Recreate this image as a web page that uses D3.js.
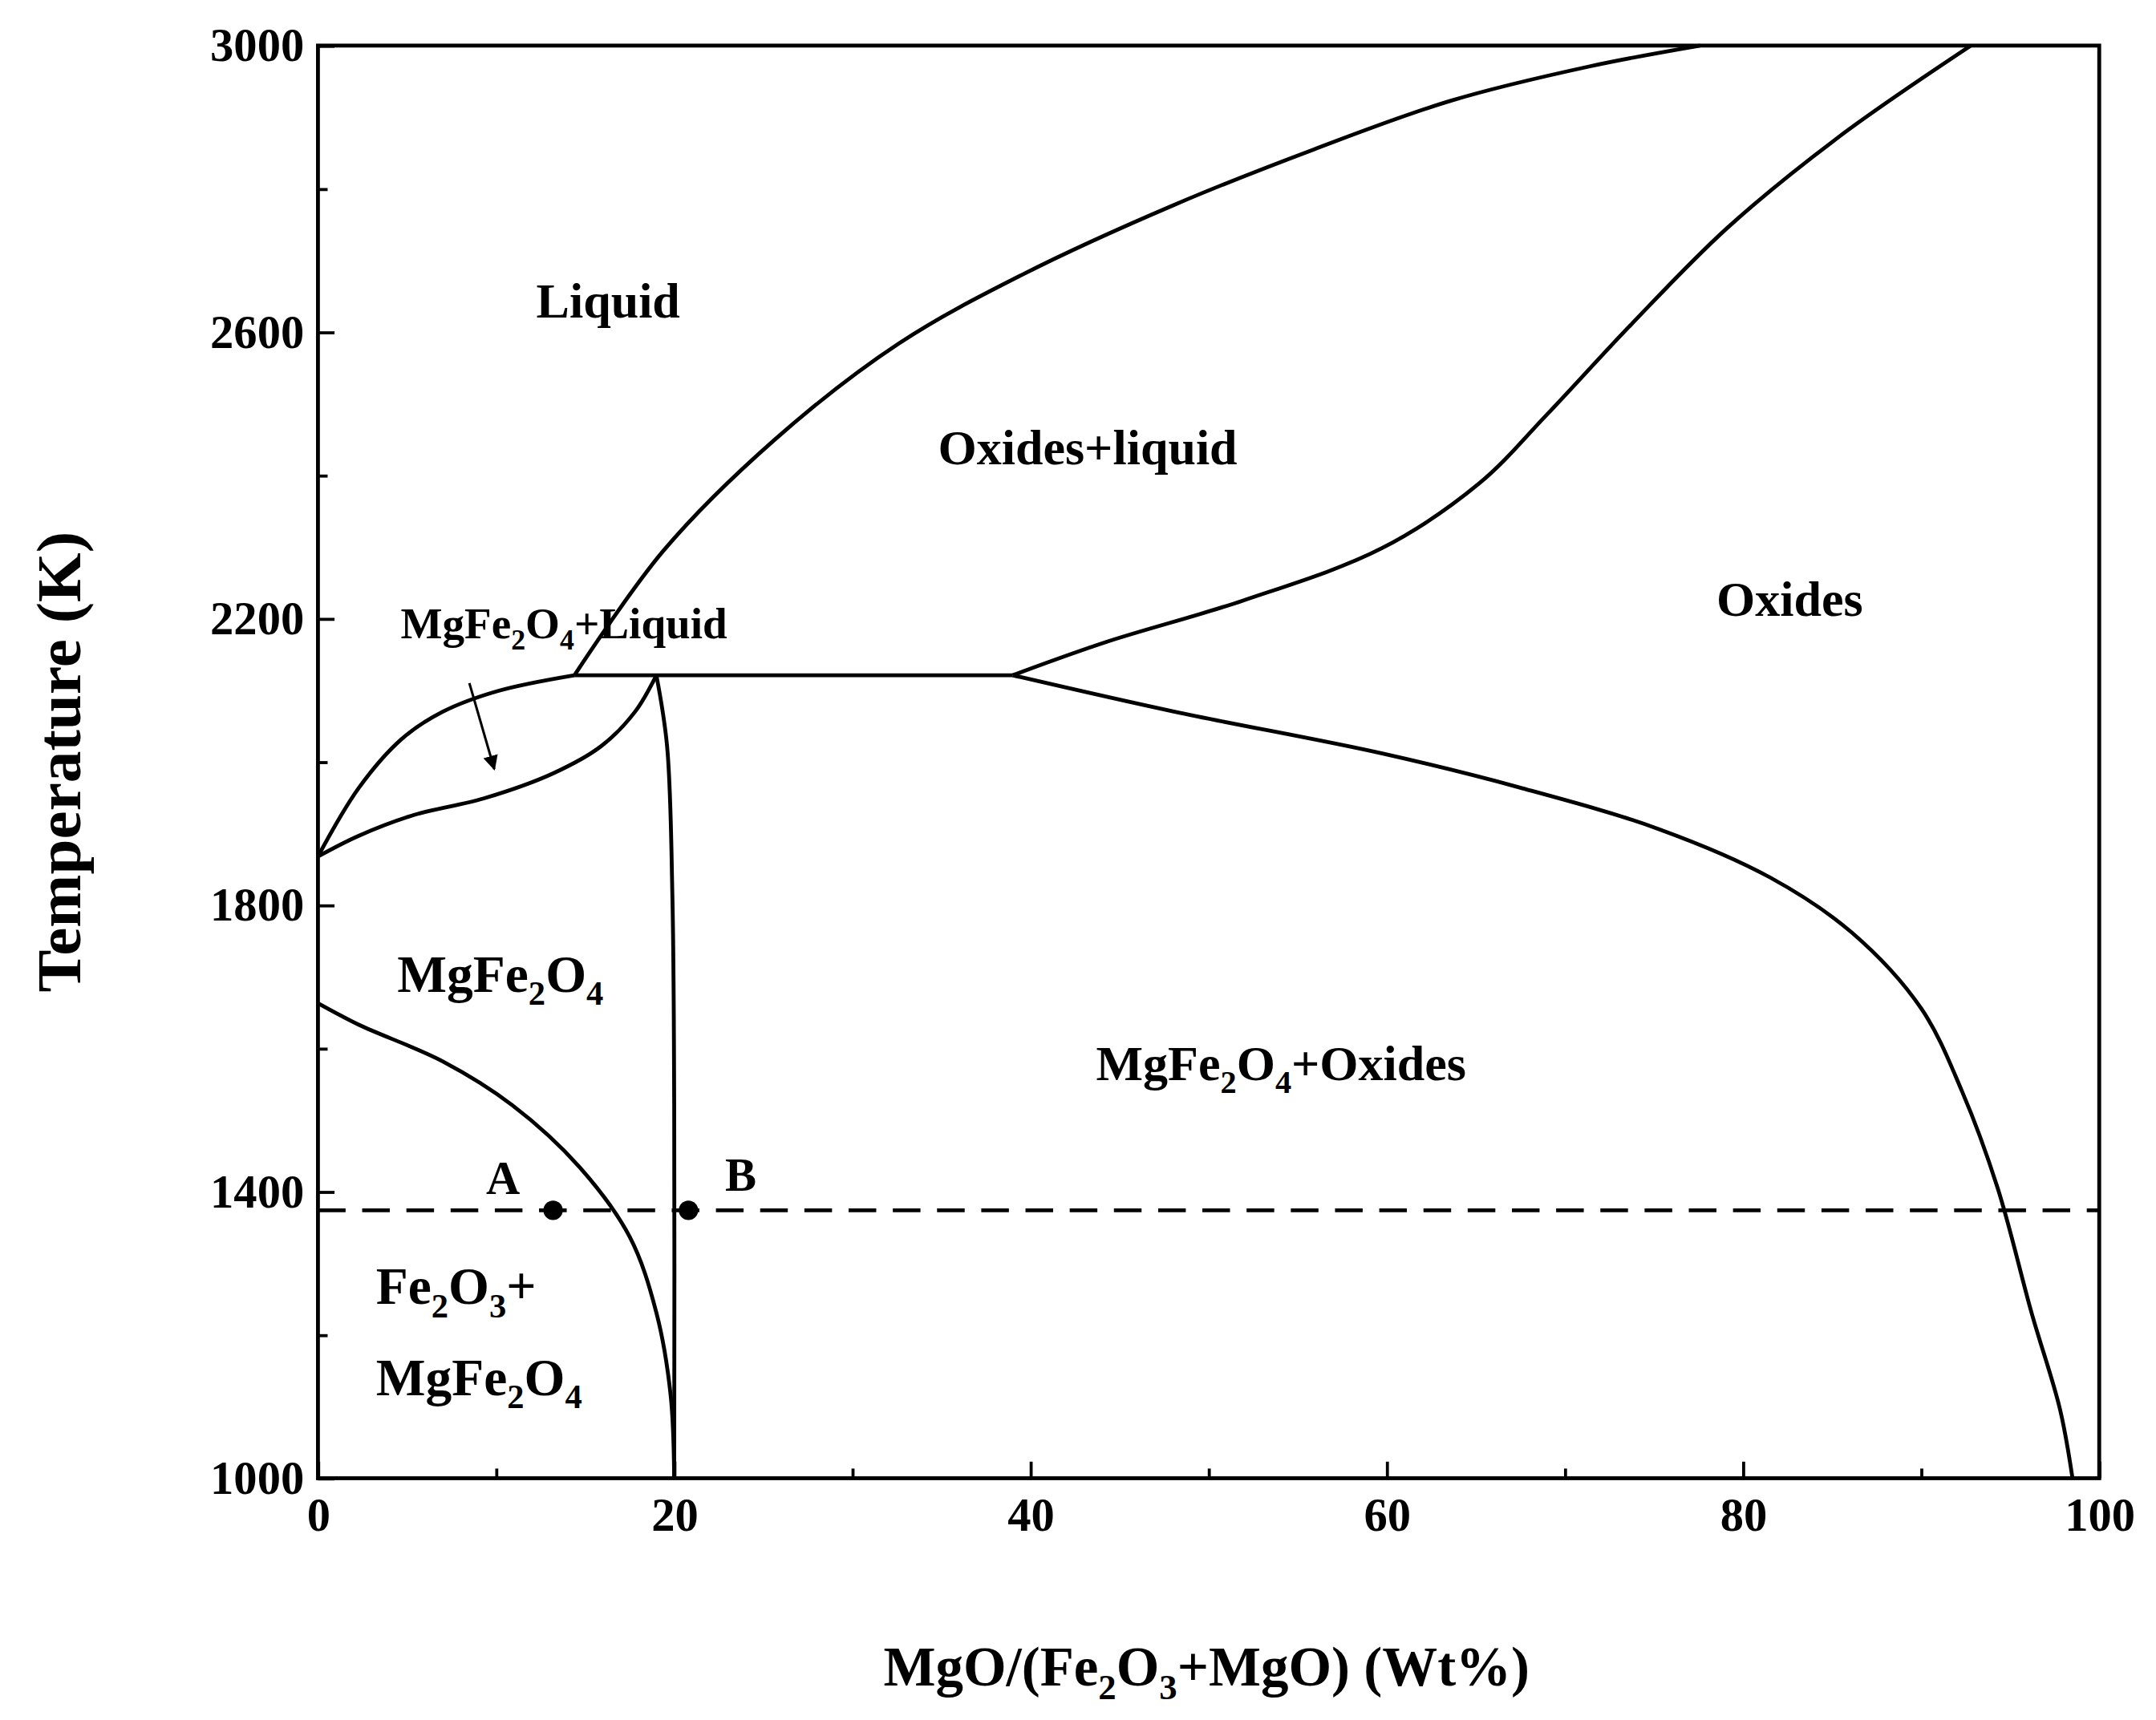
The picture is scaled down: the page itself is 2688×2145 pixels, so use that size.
<!DOCTYPE html>
<html><head><meta charset="utf-8">
<script src="https://cdn.jsdelivr.net/npm/d3@7"></script>
<style>body{margin:0;background:#fff}text{font-family:"Liberation Serif","Times New Roman",serif;font-weight:bold}</style>
</head><body><div id="chart"></div>
<script>
// phase boundaries, [MgO wt%, T (K)]
const liquidus = [[14.4,2121],[19.4,2295],[25.6,2449],[32.6,2584],[39.6,2681],[48.1,2778],[55.9,2855],[63.6,2923],[71.4,2971],[77.6,3000]];
const oxideSolidus = [[39,2121],[44.2,2167],[51.9,2225],[59.7,2298],[65.2,2389],[69,2485],[73.7,2610],[79.1,2745],[85.3,2871],[92.8,3000]];
const eutectic = [[14.4,2121],[39,2121]];
const spinelLiquidus = [[0,1868],[2.3,1964],[4.7,2032],[7,2070],[10.1,2099],[14.4,2121]];
const spinelSolidus = [[0,1868],[2.3,1897],[5.4,1926],[9.3,1949],[13.2,1984],[15.9,2022],[17.8,2070],[19,2121]];
const spinelSolvus = [[19,2121],[19.6,2022],[19.9,1810],[20,1521],[20,1000]];
const hematiteSolvus = [[0,1663],[2.3,1633],[7,1582],[10.9,1521],[14.7,1434],[17.5,1337],[19,1231],[19.8,1116],[20,1000]];
const oxideSolvus = [[39,2121],[48.1,2070],[59.7,2012],[67.5,1964],[75.3,1906],[81.5,1839],[86.1,1762],[90,1656],[92.3,1540],[94.3,1405],[96.2,1231],[97.8,1096],[98.5,1000]];
const isotherm = 1374;
const points = [["A",13.2],["B",20.8]];
const xTicks = [0,20,40,60,80,100];
const yTicks = [1000,1400,1800,2200,2600,3000];

const W = 1560, H = 1245;
const m = {left:230, right:1519, top:33, bottom:1070};
const x = d3.scaleLinear([0,100],[m.left,m.right]);
const y = d3.scaleLinear([1000,3000],[m.bottom,m.top]);

const svg = d3.select("#chart").append("svg")
  .attr("width",2688).attr("height",2145).attr("viewBox",[0,0,W,H]);

const line = d3.line().x(d=>x(d[0])).y(d=>y(d[1])).curve(d3.curveCatmullRom);
const lw = 2.8;
[liquidus,oxideSolidus,eutectic,spinelLiquidus,spinelSolidus,spinelSolvus,hematiteSolvus,oxideSolvus]
  .forEach(c=>svg.append("path").attr("d",line(c)).attr("fill","none").attr("stroke","#000").attr("stroke-width",lw));

svg.append("line").attr("x1",x(0)).attr("x2",x(100)).attr("y1",y(isotherm)).attr("y2",y(isotherm))
  .attr("stroke","#000").attr("stroke-width",lw).attr("stroke-dasharray","20,12");
points.forEach(([n,v])=>svg.append("circle").attr("cx",x(v)).attr("cy",y(isotherm)).attr("r",7));

// axes, ticks inward
const xAxis = svg.append("g").attr("transform",`translate(0,${m.bottom})`)
  .call(d3.axisBottom(x).tickValues(d3.range(0,101,10)).tickSize(-12).tickPadding(14).tickFormat(d=>xTicks.includes(d)?d:""));
const yAxis = svg.append("g").attr("transform",`translate(${m.left},0)`)
  .call(d3.axisLeft(y).tickValues(d3.range(1000,3001,200)).tickSize(-12).tickPadding(10).tickFormat(d=>yTicks.includes(d)?d:""));
[xAxis,yAxis].forEach(g=>{
  g.select(".domain").remove();
  g.selectAll(".tick line").attr("stroke-width",2.2);
  g.selectAll("text").attr("font-size",34).attr("font-family","Liberation Serif").attr("font-weight","bold");
});
xAxis.selectAll(".tick").filter(d=>d%20).select("line").attr("y2",-7);
yAxis.selectAll(".tick").filter(d=>(d-1000)%400!==0).select("line").attr("x2",7);
svg.append("rect").attr("x",m.left).attr("y",m.top).attr("width",m.right-m.left).attr("height",m.bottom-m.top)
  .attr("fill","none").attr("stroke","#000").attr("stroke-width",2.8);

// parts: strings are normal text, [s] is a subscript
function label(px,py,parts,size,anchor="middle"){
  const t = svg.append("text").attr("x",px).attr("y",py).attr("font-size",size).attr("text-anchor",anchor);
  let shift = 0;
  parts.forEach(p=>{
    if(typeof p==="string"){
      t.append("tspan").attr("dy",-shift).text(p); shift = 0;
    } else {
      const d = size*0.25;
      t.append("tspan").attr("font-size",size*0.65).attr("dy",d-shift).text(p[0]); shift = d;
    }
  });
  return t;
}
label(440,230,["Liquid"],36);
label(787,336,["Oxides+liquid"],36);
label(1295,446,["Oxides"],36);
label(408,462,["MgFe",["2"],"O",["4"],"+Liquid"],32);
label(362,718,["MgFe",["2"],"O",["4"]],38);
label(927,782,["MgFe",["2"],"O",["4"],"+Oxides"],36);
label(272,944,["Fe",["2"],"O",["3"],"+"],38,"start");
label(272,1010,["MgFe",["2"],"O",["4"]],38,"start");
label(364,864,["A"],34);
label(536,862,["B"],34);
label(873,1220,["MgO/(Fe",["2"],"O",["3"],"+MgO) (Wt%)"],40);
label(0,0,["Temperature (K)"],46).attr("transform",`translate(58,${(m.top+m.bottom)/2}) rotate(-90)`);

// arrow
svg.append("defs").append("marker").attr("id","ah").attr("viewBox","0 0 10 10").attr("refX",9).attr("refY",5)
  .attr("markerWidth",6).attr("markerHeight",6).attr("orient","auto")
  .append("path").attr("d","M0,0L10,5L0,10z");
svg.append("line").attr("x1",x(8.5)).attr("y1",y(2110)).attr("x2",x(9.9)).attr("y2",y(1990))
  .attr("stroke","#000").attr("stroke-width",1.8).attr("marker-end","url(#ah)");
</script></body></html>
